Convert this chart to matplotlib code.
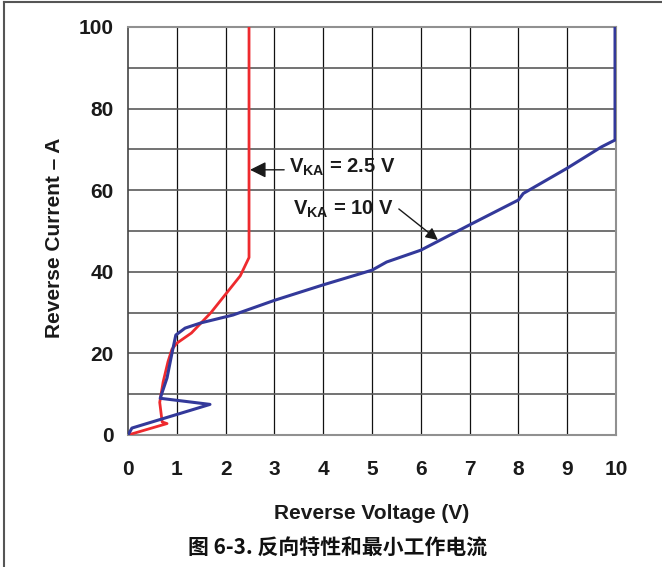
import matplotlib.pyplot as plt
from matplotlib.lines import Line2D

plt.rcParams['font.family'] = ['Liberation Sans', 'DejaVu Sans']
plt.rcParams['mathtext.fontset'] = 'custom'
plt.rcParams['mathtext.bf'] = 'Liberation Sans:bold'
plt.rcParams['mathtext.rm'] = 'Liberation Sans:bold'

# V_KA = 2.5 V curve (reverse voltage, reverse current)
v_25 = [0, 0.8, 0.7, 0.65, 0.72, 0.82, 0.9, 1.0, 1.3, 1.5, 1.7, 1.9, 2.1, 2.3, 2.42, 2.48, 2.48]
i_25 = [0, 2.8, 3.2, 8, 13, 18, 21, 22.5, 25, 27.5, 30, 33, 36, 39, 42, 43.5, 100]

# V_KA = 10 V curve
v_10 = [0, 0.08, 1.68, 0.66, 0.8, 0.9, 0.98, 1.17, 1.5, 2.15, 3, 4, 5, 5.3, 6, 7, 8, 8.1, 9, 9.7, 9.98, 9.98]
i_10 = [0, 1.7, 7.5, 9, 14, 20, 24.5, 26.2, 27.5, 29.4, 33, 36.8, 40.4, 42.4, 45.3, 51.5, 57.6, 59.2, 65.4, 70.6, 72.3, 100]

x_ticks = list(range(0, 11))
y_ticks = [0, 20, 40, 60, 80, 100]

fig = plt.figure(figsize=(6.62, 5.67), dpi=100)
ax = fig.add_axes([128 / 662, 1 - 435 / 567, 488 / 662, 408 / 567])

# grid: black verticals every 1 V, grey horizontals every 10 A
for xv in range(1, 10):
    ax.axvline(xv, color='#111111', lw=0.9, zorder=1)
for yv in range(10, 100, 10):
    ax.axhline(yv, color='#5a5a5a', lw=1.2, zorder=1)

ax.plot(v_25, i_25, color='#ee2a2e', lw=2.0, zorder=3)
ax.plot(v_10, i_10, color='#33399a', lw=2.2, zorder=4)

ax.set_xlim(0, 10)
ax.set_ylim(0, 100)
ax.set_xticks(x_ticks)
ax.set_yticks(y_ticks)
ax.tick_params(length=0, labelsize=15, colors='#1a1a1a')
ax.tick_params(axis='x', pad=18)
ax.tick_params(axis='y', pad=10.5)
for lab in ax.get_xticklabels() + ax.get_yticklabels():
    lab.set_fontweight('bold')

for side in ['top', 'right', 'bottom']:
    ax.spines[side].set_color('#909090')
    ax.spines[side].set_linewidth(1.5)
ax.spines['left'].set_color('#444444')
ax.spines['left'].set_linewidth(1.2)

ax.set_xlabel('Reverse Voltage (V)', fontsize=15, fontweight='bold', color='#1a1a1a', labelpad=18)
# y label sits a little below the axes centre in the reference
fig.text(55 / 662, 1 - 238 / 567, 'Reverse Current \u2013 A', fontsize=15, fontweight='bold',
         color='#1a1a1a', rotation=90, ha='center', va='center')

# annotations
ax.annotate('', xy=(2.5, 65), xytext=(3.2, 65),
            arrowprops=dict(arrowstyle='-|>', color='#1a1a1a', lw=1.0,
                            mutation_scale=24, shrinkA=0, shrinkB=0), zorder=5)
ax.text(3.3, 65.6, r'V$_{\mathbf{KA}}$ = 2.5 V', fontsize=14.5, fontweight='bold',
        color='#1a1a1a', va='center', ha='left', zorder=5)

ax.annotate('', xy=(6.35, 47.8), xytext=(5.55, 55.4),
            arrowprops=dict(arrowstyle='-|>', color='#1a1a1a', lw=1.0,
                            mutation_scale=18, shrinkA=0, shrinkB=0), zorder=5)
ax.text(3.38, 55.3, r'V$_{\mathbf{KA}}$ = 10 V', fontsize=14.5, fontweight='bold',
        color='#1a1a1a', va='center', ha='left', zorder=5)

fig.text(338 / 662, 1 - 548 / 567, '图 6-3. 反向特性和最小工作电流', fontsize=15,
         fontweight='bold', family=['Noto Sans CJK SC', 'DejaVu Sans'],
         ha='center', va='center', color='#111111')

# page border (left and top)
fig.add_artist(Line2D([4 / 662, 4 / 662], [0, 1 - 2 / 567], transform=fig.transFigure,
                      color='#555555', lw=1.5))
fig.add_artist(Line2D([4 / 662, 1], [1 - 2 / 567, 1 - 2 / 567], transform=fig.transFigure,
                      color='#555555', lw=1.5))

fig.savefig('out.png', dpi=100)
